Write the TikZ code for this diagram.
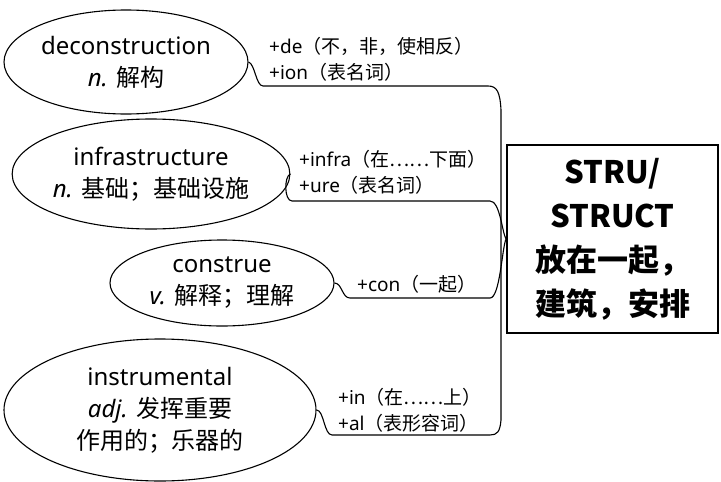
\documentclass[tikz,border=0pt]{standalone}
\usepackage{fontspec}
\setmainfont{Noto Sans}
\newfontfamily\cjk{Noto Sans CJK SC}
\usetikzlibrary{shapes.geometric}
\begin{document}
\begin{tikzpicture}[x=1pt,y=-1pt,
  word/.style={ellipse,draw,line width=1.1pt,inner sep=0pt,align=center,
    font=\fontsize{24}{32}\selectfont},
  affix/.style={anchor=west,inner sep=0pt,font=\fontsize{19}{20}\selectfont},
  rootbox/.style={draw,line width=2pt,minimum width=211pt,minimum height=188pt,
    align=center,inner sep=0pt,font=\cjk\fontsize{31}{44}\selectfont\bfseries},
  link/.style={line width=1.1pt}]
\useasboundingbox (0,0) rectangle (721,482);
\node[word,minimum width=244pt,minimum height=104pt] (e1) at (126,62)
  {deconstruction\\{\itshape n.} {\cjk 解构}};
\node[word,minimum width=252pt,minimum height=110pt] (e2) at (151,174)
  {infrastructure\\{\itshape n.} {\cjk 基础；基础设施}};
\node[word,minimum width=224pt,minimum height=86pt] (e3) at (222,283)
  {construe\\{\itshape v.} {\cjk 解释；理解}};
\node[word,minimum width=312pt,minimum height=142pt] (e4) at (160,410)
  {instrumental\\{\itshape adj.} {\cjk 发挥重要}\\{\cjk 作用的；乐器的}};
\node[rootbox] (root) at (612.5,239) {STRU/\\STRUCT\\放在一起，\\建筑，安排};
\node[affix] (a1) at (269,46) {+de{\cjk （不，非，使相反）}};
\node[affix] (b1) at (269,72) {+ion{\cjk （表名词）}};
\node[affix] (a2) at (299,159) {+infra{\cjk （在……下面）}};
\node[affix] (b2) at (299,185) {+ure{\cjk （表名词）}};
\node[affix] (a3) at (357,284) {+con{\cjk （一起）}};
\node[affix] (a4) at (338,397) {+in{\cjk （在……上）}};
\node[affix] (b4) at (338,423) {+al{\cjk （表形容词）}};
\coordinate (hub) at (root.west);
\draw[link] (e1.east) .. controls (255,64) and (256,86) .. (263,86) -- (488,86)
  .. controls (497,86) and (500,92) .. (501,110) -- (501,420)
  .. controls (500,432) and (497,435) .. (490,435) -- (332,435)
  .. controls (324,435) and (324,410) .. (e4.east);
\draw[link] (e2.east) .. controls (284,176) and (284,201) .. (292,201) -- (490,201)
  .. controls (500,201) and (502,232) .. (hub);
\draw[link] (e3.east) .. controls (342,283) and (342,298) .. (350,298) -- (490,298)
  .. controls (500,298) and (502,248) .. (hub);
\end{tikzpicture}
\end{document}
